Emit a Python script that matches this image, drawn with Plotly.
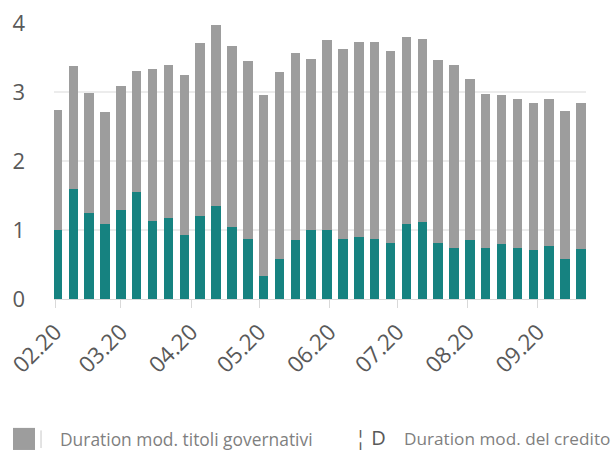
import plotly.graph_objects as go

# ---- data ----
DATES = ["2020-02-02", "2020-02-09", "2020-02-16", "2020-02-23", "2020-03-01", "2020-03-08",
         "2020-03-15", "2020-03-22", "2020-03-29", "2020-04-05", "2020-04-12", "2020-04-19",
         "2020-04-26", "2020-05-03", "2020-05-10", "2020-05-17", "2020-05-24", "2020-05-31",
         "2020-06-07", "2020-06-14", "2020-06-21", "2020-06-28", "2020-07-05", "2020-07-12",
         "2020-07-19", "2020-07-26", "2020-08-02", "2020-08-09", "2020-08-16", "2020-08-23",
         "2020-08-30", "2020-09-06", "2020-09-13", "2020-09-20"]
CREDITO = [1.00, 1.59, 1.24, 1.08, 1.29, 1.55, 1.13, 1.17, 0.93, 1.21, 1.35, 1.04,
           0.87, 0.34, 0.58, 0.86, 1.00, 1.00, 0.87, 0.90, 0.87, 0.81, 1.08, 1.11,
           0.81, 0.74, 0.86, 0.74, 0.79, 0.74, 0.71, 0.77, 0.58, 0.72]
GOVERNATIVI = [1.74, 1.78, 1.74, 1.63, 1.79, 1.75, 2.21, 2.22, 2.31, 2.50, 2.62, 2.62,
               2.58, 2.61, 2.71, 2.71, 2.48, 2.76, 2.76, 2.82, 2.85, 2.78, 2.71, 2.66,
               2.65, 2.65, 2.33, 2.23, 2.16, 2.16, 2.13, 2.13, 2.14, 2.12]
TICK_DATES = ["2020-02-01", "2020-03-01", "2020-04-01", "2020-05-01",
              "2020-06-01", "2020-07-01", "2020-08-01", "2020-09-01"]
TICK_LABELS = ["02.20", "03.20", "04.20", "05.20", "06.20", "07.20", "08.20", "09.20"]
Y_TICKS = [0, 1, 2, 3, 4]
GRID_VALUES = [1, 2, 3]
NAME_GOV = "Duration mod. titoli governativi"
NAME_CRED = "Duration mod. del credito"

TEAL = "#168280"
GRAY = "#9d9d9d"
TXT = "#595959"
FONT = "Open Sans"
BAR_W = 4.2 * 86400000

fig = go.Figure()
fig.add_trace(go.Bar(x=DATES, y=CREDITO, name=NAME_CRED, marker_color=TEAL,
                     width=BAR_W, marker_line_width=0))
fig.add_trace(go.Bar(x=DATES, y=GOVERNATIVI, name=NAME_GOV, marker_color=GRAY,
                     width=BAR_W, marker_line_width=0))

for g in GRID_VALUES:
    fig.add_shape(type="line", xref="paper", yref="y", x0=0, x1=1, y0=g, y1=g,
                  line=dict(color="#d9d9d9", width=1), layer="below")

# custom legend (as in the reference)
LEG_Y = -0.507
fig.add_shape(type="rect", xref="paper", yref="paper", x0=-0.0771, x1=-0.0357,
              y0=-0.547, y1=-0.467, fillcolor=GRAY, line_width=0)
fig.add_shape(type="line", xref="paper", yref="paper", x0=-0.0244, x1=-0.0244,
              y0=-0.54, y1=-0.476, line=dict(color="#c8c8c8", width=1))
fig.add_annotation(xref="paper", yref="paper", x=0.0075, y=LEG_Y, text=NAME_GOV,
                   showarrow=False, xanchor="left", yanchor="middle",
                   font=dict(family=FONT, size=17.4, color="#7f7f7f"))
fig.add_annotation(xref="paper", yref="paper", x=0.562, y=-0.503, text="¦ D",
                   showarrow=False, xanchor="left", yanchor="middle",
                   font=dict(family=FONT, size=20, color=TXT))
fig.add_annotation(xref="paper", yref="paper", x=0.654, y=LEG_Y, text=NAME_CRED,
                   showarrow=False, xanchor="left", yanchor="middle",
                   font=dict(family=FONT, size=17.2, color="#7f7f7f"))

fig.update_layout(
    barmode="stack",
    width=613, height=450,
    margin=dict(l=54, r=27, t=23, b=151),
    paper_bgcolor="white", plot_bgcolor="white",
    showlegend=False,
    bargap=0,
    font=dict(family=FONT, color=TXT),
)
fig.update_xaxes(
    type="date",
    range=["2020-01-31 12:00", "2020-09-22 06:00"],
    tickvals=TICK_DATES, ticktext=TICK_LABELS,
    tickangle=-45,
    tickfont=dict(family=FONT, size=22.5, color=TXT),
    ticks="outside", ticklen=8, tickcolor="#d9d9d9",
    showline=True, linecolor="#d9d9d9", linewidth=1,
    showgrid=False, zeroline=False, automargin=False,
    ticklabelstandoff=2, ticklabeloverflow="allow",
)
fig.update_yaxes(
    range=[0, 4], tickvals=Y_TICKS,
    tickfont=dict(family=FONT, size=22, color=TXT),
    showgrid=False, zeroline=False, showline=False, automargin=False,
    ticklabelstandoff=28, ticklabeloverflow="allow",
)

# remove the default 8px page margin so the 613x450 figure fills the window exactly
fig.write_html("out.html",
               config={"displayModeBar": False},
               post_script="document.body.style.margin='0';document.body.style.overflow='hidden';")
